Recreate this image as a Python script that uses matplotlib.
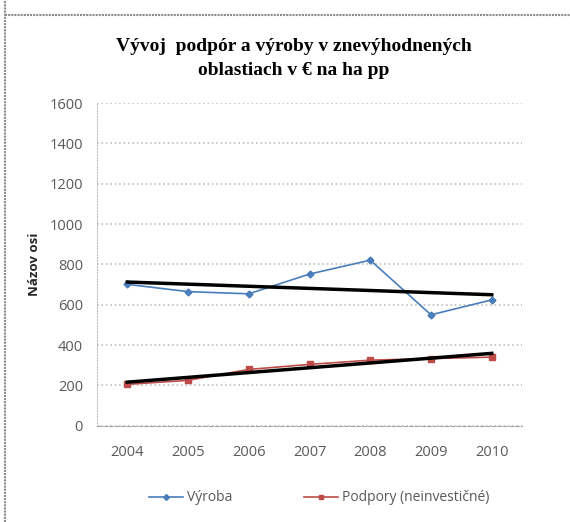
import numpy as np
import matplotlib.pyplot as plt
from matplotlib.lines import Line2D

years = ['2004', '2005', '2006', '2007', '2008', '2009', '2010']
vyroba = [701, 665, 654, 752, 821, 550, 624]
podpory = [205, 225, 279, 304, 325, 333, 340]

title = 'Vývoj  podpór a výroby v znevýhodnených\noblastiach v € na ha pp'
ylabel = 'Názov osi'
labels = ['Výroba', 'Podpory (neinvestičné)']

blue = '#4a7ebb'
red = '#be4b48'
gray_txt = '#595959'

fig = plt.figure(figsize=(5.7, 5.22), dpi=100)
ax = fig.add_axes([0.170, 0.1845, 0.746, 0.6180])

x = np.arange(len(years))
ax.plot(x, vyroba, color=blue, lw=1.2, marker='D', ms=3.5, zorder=3)
ax.plot(x, podpory, color=red, lw=1.2, marker='s', ms=4, zorder=3)

# linear trendlines
for vals in (vyroba, podpory):
    k, q = np.polyfit(x, vals, 1)
    ax.plot(x, k * x + q, color='black', lw=2.5, zorder=4)

ax.set_xlim(-0.5, len(years) - 0.5)
ax.set_ylim(0, 1600)
ax.set_yticks(range(0, 1601, 200))
ax.set_xticks(x)
ax.set_xticklabels(years)
ax.yaxis.grid(True, color='#bfbfbf', ls=':', lw=1.2)
ax.set_axisbelow(True)
for s in ('top', 'right'):
    ax.spines[s].set_visible(False)
ax.spines['left'].set_color('#bfbfbf')
ax.spines['left'].set_linestyle(':')
ax.spines['bottom'].set_color('#a6a6a6')
ax.spines['bottom'].set_linestyle('--')
ax.tick_params(axis='y', length=0, colors=gray_txt, labelsize=10.5, pad=10)
ax.tick_params(axis='x', length=0, colors=gray_txt, labelsize=10.5, pad=14)
for t in ax.get_xticklabels() + ax.get_yticklabels():
    t.set_family('Open Sans')

ax.set_ylabel(ylabel, fontsize=9.5, fontweight='bold', color='#262626',
              family='Open Sans', labelpad=6)

fig.text(0.515, 0.888, title, ha='center', va='center', fontsize=14,
         fontweight='bold', family='Liberation Serif', linespacing=1.55)

handles = [Line2D([], [], color=blue, lw=1.2, marker='D', ms=3),
           Line2D([], [], color=red, lw=1.2, marker='s', ms=3.5)]
leg = fig.legend(handles, labels, loc='center', bbox_to_anchor=(0.56, 0.046),
                 ncol=2, frameon=False, handlelength=2.4, columnspacing=5.2,
                 handletextpad=0.3, prop={'family': 'Open Sans', 'size': 10})
for t in leg.get_texts():
    t.set_color(gray_txt)

# outer chart border (left and top edges visible)
fig.add_artist(Line2D([5 / 570, 5 / 570], [0, 1], transform=fig.transFigure,
                      color='#8c8c8c', lw=1.5, ls=(0, (1, 0.5))))
fig.add_artist(Line2D([5 / 570, 1], [1 - 15 / 522, 1 - 15 / 522],
                      transform=fig.transFigure, color='#8c8c8c', lw=1.5,
                      ls=(0, (1, 0.5))))

fig.savefig('out.png', dpi=100)
